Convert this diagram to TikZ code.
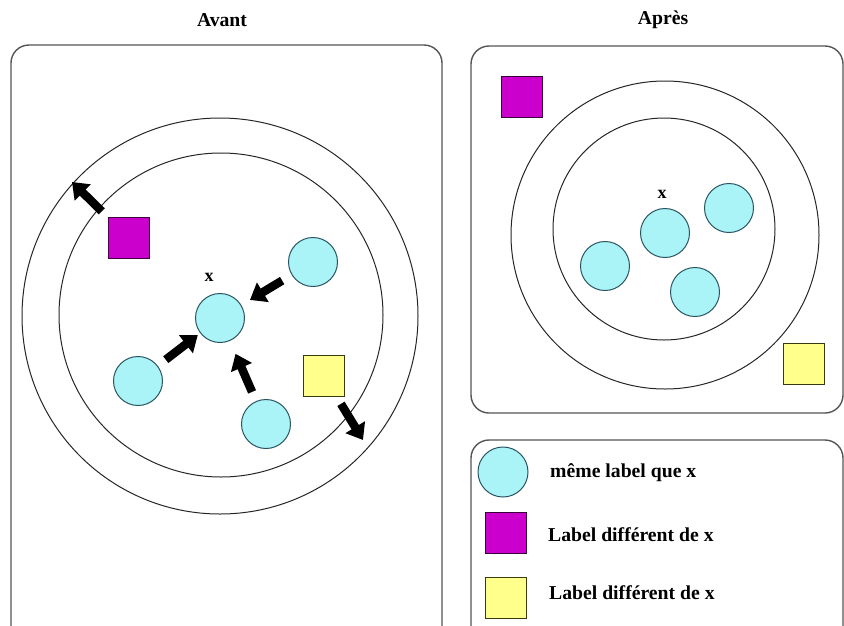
\documentclass[tikz,border=0pt]{standalone}
\usepackage{fontspec}
\setmainfont{Liberation Serif}
\usetikzlibrary{arrows.meta}
\definecolor{cfill}{HTML}{AAF4F8}
\definecolor{cdraw}{HTML}{2A5560}
\definecolor{mfill}{HTML}{CC00CC}
\definecolor{mdraw}{HTML}{3A003A}
\definecolor{yfill}{HTML}{FFFF8C}
\definecolor{ydraw}{HTML}{3A3A10}
\definecolor{pdraw}{HTML}{555555}
\tikzset{
  panel/.style={draw=pdraw, line width=1.4pt, rounded corners=18pt},
  ring/.style={draw=black!85, line width=1pt},
  same/.style={circle, draw=cdraw, fill=cfill, line width=1pt, minimum size=49pt, inner sep=0pt},
  magsq/.style={rectangle, draw=mdraw, fill=mfill, line width=1pt, minimum size=41pt, inner sep=0pt},
  yelsq/.style={rectangle, draw=ydraw, fill=yfill, line width=1pt, minimum size=41pt, inner sep=0pt},
  txt/.style={font=\fontsize{19.7}{23}\selectfont\bfseries, inner sep=0pt},
  xlab/.style={font=\fontsize{18}{21}\selectfont\bfseries, inner sep=0pt},
  bigarrow/.style={draw=black, line width=8.5pt, -{Triangle[length=15pt,width=22pt]}}
}
\begin{document}
\begin{tikzpicture}[x=1pt,y=-1pt]
\useasboundingbox (0,0) rectangle (844,625);
% titles
\node[txt] (tavant) at (222,20) {Avant};
\node[txt] (tapres) at (663,20) {Après};
% panels
\draw[panel] (11,45) rectangle (442,650);
\draw[panel] (471,46) rectangle (843,413);
\draw[panel] (471,440) rectangle (843,650);
% ---- Avant ----
\draw[ring] (220,316) circle[radius=198];
\draw[ring] (221,315) circle[radius=162];
\node[same] (ax) at (220,318) {};
\node[xlab] (axl) at (209,277) {x};
\node[same] (atr) at (313,262) {};
\node[same] (al) at (138,381) {};
\node[same] (ab) at (266,424) {};
\node[magsq] (am) at (128.5,237.5) {};
\node[yelsq] (ay) at (324,376) {};
\coordinate (amtip) at (72,182);
\coordinate (aytip) at (363,440);
\draw[bigarrow, shorten <=11pt, shorten >=10pt] (atr) -- (ax);
\draw[bigarrow, shorten <=10pt, shorten >=3pt] (al) -- (ax);
\draw[bigarrow, shorten <=10pt, shorten >=14pt] (ab) -- (ax);
\draw[bigarrow, shorten <=8pt] (am) -- (amtip);
\draw[bigarrow, shorten <=8pt] (ay) -- (aytip);
% ---- Apres ----
\draw[ring] (665,235) circle[radius=154];
\draw[ring] (664,229) circle[radius=111];
\node[same] (px) at (665,233) {};
\node[xlab] (pxl) at (662,194) {x};
\node[same] (pr) at (729,208) {};
\node[same] (pl) at (605,266) {};
\node[same] (pb) at (695,292) {};
\node[magsq] (pm) at (522,97) {};
\node[yelsq] (py) at (803.5,364) {};
% ---- legend ----
\node[same, minimum size=50pt] (lc) at (503,472) {};
\node[magsq] (lm) at (505.5,533) {};
\node[yelsq] (ly) at (505.5,597.5) {};
\node[txt, anchor=west] (lct) at (550,473) {même label que x};
\node[txt, anchor=west] (lmt) at (548,535) {Label différent de x};
\node[txt, anchor=west] (lyt) at (549,593) {Label différent de x};
\end{tikzpicture}
\end{document}
